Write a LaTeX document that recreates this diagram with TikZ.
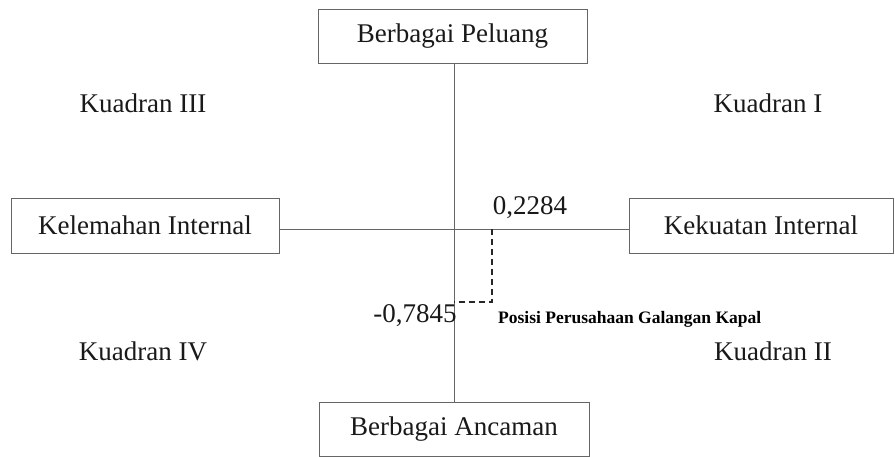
\documentclass[tikz,border=0pt]{standalone}
\usepackage{fontspec}
\setmainfont{Liberation Serif}
\begin{document}
\begin{tikzpicture}[x=1pt,y=-1pt,
  box/.style={draw=black!60,line width=0.9pt,fill=white,inner sep=0pt,font=\fontsize{27}{30}\selectfont,text=black!90},
  axis/.style={draw=black!60,line width=0.9pt},
  dashline/.style={draw=black!85,line width=1.1pt,dash pattern=on 6pt off 4pt},
  lbl/.style={font=\fontsize{27}{30}\selectfont,text=black!90,inner sep=0pt}]
\useasboundingbox (0,0) rectangle (895,457);
\node[box,minimum width=269pt,minimum height=54pt] (top) at (452.5,36) {Berbagai Peluang};
\node[box,minimum width=268pt,minimum height=55pt] (left) at (145,225.5) {Kelemahan Internal};
\node[box,minimum width=264pt,minimum height=55pt] (right) at (761,225.5) {Kekuatan Internal};
\node[box,minimum width=270pt,minimum height=54pt] (bottom) at (454,429) {Berbagai Ancaman};
\coordinate (c) at (454,229);
\draw[axis] (c |- top.south) -- (c |- bottom.north);
\draw[axis] (left.east |- c) -- (right.west |- c);
\coordinate (p) at (492,302);
\draw[dashline] (p |- c) -- (p) -- (c |- p);
\node[lbl] (q3) at (143,103) {Kuadran III};
\node[lbl] (q1) at (768,103) {Kuadran I};
\node[lbl] (q4) at (143,351) {Kuadran IV};
\node[lbl] (q2) at (773,351) {Kuadran II};
\node[lbl] (x) at (530,208) {0,2284};
\node[lbl] (y) at (415,316) {-0,7845};
\node[inner sep=0pt,anchor=west,font=\fontsize{17.5}{20}\selectfont\bfseries] (pos) at (498,319) {Posisi Perusahaan Galangan Kapal};
\end{tikzpicture}
\end{document}
